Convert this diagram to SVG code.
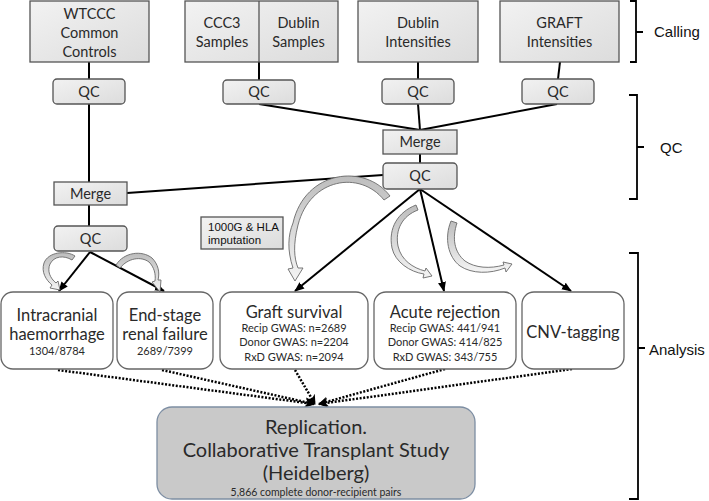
<svg xmlns="http://www.w3.org/2000/svg" width="709" height="501" viewBox="0 0 709 501">
<defs>
<linearGradient id="gbox" x1="0" y1="0" x2="1" y2="1">
<stop offset="0" stop-color="#f2f2f2"/><stop offset="1" stop-color="#dcdcdc"/>
</linearGradient>
<linearGradient id="garr" x1="0" y1="0" x2="0" y2="1">
<stop offset="0" stop-color="#bdbdbd"/><stop offset="1" stop-color="#f4f4f4"/>
</linearGradient>
<marker id="ah" viewBox="0 0 10 10" refX="9" refY="5" markerWidth="5" markerHeight="5" orient="auto">
<path d="M0,1 L10,5 L0,9 z" fill="#000"/>
</marker>
<marker id="ahd" viewBox="0 0 10 10" refX="9" refY="5" markerWidth="4" markerHeight="4" orient="auto">
<path d="M0,0 L10,5 L0,10 L3,5 z" fill="#000"/>
</marker>
</defs>
<style>
.box{fill:url(#gbox);stroke:#555;stroke-width:1.3}
.res{fill:#fff;stroke:#666;stroke-width:1.3}
.t{font-family:Lato,"Open Sans",sans-serif;fill:#2a2a2a;text-anchor:middle}
.tb{font-size:14.5px}
.tl{font-size:16.5px}
.ts{font-size:11px}
.a{font-family:"Liberation Sans",Arial,sans-serif;fill:#111}
.ln{stroke:#000;stroke-width:2;fill:none}
.dot{stroke:#000;stroke-width:2.5;fill:none;stroke-dasharray:2 1.6}
.br{stroke:#000;stroke-width:1.8;fill:none}
.ca{fill:url(#garr);stroke:#6a6a6a;stroke-width:0.9}
</style>
<rect width="709" height="501" fill="#fff"/>

<g id="connectors">
<line class="ln" x1="89" y1="62" x2="89" y2="79"/>
<line class="ln" x1="259" y1="62" x2="259" y2="80"/>
<line class="ln" x1="418" y1="62" x2="418" y2="79"/>
<line class="ln" x1="560" y1="62" x2="558" y2="79"/>
<line class="ln" x1="89" y1="104" x2="89" y2="182"/>
<line class="ln" x1="259" y1="104" x2="420" y2="130"/>
<line class="ln" x1="418" y1="104" x2="420" y2="130"/>
<line class="ln" x1="557" y1="104" x2="420" y2="130"/>
<line class="ln" x1="420" y1="154" x2="420" y2="163"/>
<line class="ln" x1="127" y1="193" x2="383" y2="175"/>
<line class="ln" x1="89" y1="205" x2="89" y2="226"/>
<line class="ln" x1="90" y1="252" x2="59" y2="291" marker-end="url(#ah)"/>
<line class="ln" x1="90" y1="252" x2="164" y2="291" marker-end="url(#ah)"/>
<line class="ln" x1="420" y1="189" x2="295" y2="291" marker-end="url(#ah)"/>
<line class="ln" x1="420" y1="189" x2="444" y2="291" marker-end="url(#ah)"/>
<line class="ln" x1="420" y1="189" x2="571" y2="291" marker-end="url(#ah)"/>
<line class="dot" x1="58" y1="370" x2="314" y2="404" marker-end="url(#ahd)"/>
<line class="dot" x1="162" y1="370" x2="314" y2="404" marker-end="url(#ahd)"/>
<line class="dot" x1="295" y1="370" x2="315" y2="404" marker-end="url(#ahd)"/>
<line class="dot" x1="445" y1="369" x2="319" y2="404" marker-end="url(#ahd)"/>
<line class="dot" x1="572" y1="369" x2="319" y2="404" marker-end="url(#ahd)"/>
</g>

<g id="curved-arrows">
<path class="ca" d="M384,200 C360,170 310,178 298,225 C293,245 294,258 298,268 L303,268 L295,281 L288,269 L293,268 C287,250 288,235 293,223 C305,170 365,163 390,196 Z"/>
<path class="ca" d="M75,256 C66,250 48,252 44,263 C41,272 46,280 52,285 L50,288 L60,290 L58,281 L56,283 C50,278 47,271 50,264 C54,256 64,255 72,260 Z"/>
<path class="ca" d="M116,265 C124,252 142,250 152,258 C158,264 160,272 158,280 L161,280 L160,292 L152,282 L155,281 C156,274 154,267 149,262 C141,256 128,258 120,268 Z"/>
<path class="ca" d="M416,205 C398,212 388,228 392,248 C395,262 410,272 424,274 L423,278 L432,276 L426,268 L425,271 C413,268 401,260 398,246 C395,230 402,216 418,210 Z"/>
<path class="ca" d="M451,221 C444,238 448,257 460,266 C472,274 490,274 505,268 L506,272 L512,264 L503,262 L504,265 C490,269 475,268 465,261 C454,252 452,238 457,223 Z"/>
</g>

<g id="wtccc"><rect class="box" x="30" y="1" width="119" height="61"/>
<text class="t tb" x="89.5" y="19">WTCCC</text><text class="t tb" x="89.5" y="38">Common</text><text class="t tb" x="89.5" y="57">Controls</text></g>
<g id="ccc3-dublin-samples"><rect class="box" x="185" y="1" width="153" height="61"/>
<line x1="259" y1="1" x2="259" y2="62" stroke="#555" stroke-width="1.3"/>
<text class="t tb" x="222" y="28">CCC3</text><text class="t tb" x="222" y="47">Samples</text>
<text class="t tb" x="298.5" y="28">Dublin</text><text class="t tb" x="298.5" y="47">Samples</text></g>
<g id="dublin-int"><rect class="box" x="358" y="1" width="120" height="61"/>
<text class="t tb" x="418" y="28">Dublin</text><text class="t tb" x="418" y="47">Intensities</text></g>
<g id="graft-int"><rect class="box" x="500" y="1" width="119" height="61"/>
<text class="t tb" x="559.5" y="28">GRAFT</text><text class="t tb" x="559.5" y="47">Intensities</text></g>

<g id="qc1"><rect class="box" x="53" y="79" width="72" height="25" rx="4"/><text class="t tb" x="89" y="97">QC</text></g>
<g id="qc2"><rect class="box" x="223" y="80" width="72" height="24" rx="4"/><text class="t tb" x="259" y="97">QC</text></g>
<g id="qc3"><rect class="box" x="382" y="79" width="72" height="25" rx="4"/><text class="t tb" x="418" y="97">QC</text></g>
<g id="qc4"><rect class="box" x="522" y="79" width="72" height="25" rx="4"/><text class="t tb" x="558" y="97">QC</text></g>
<g id="merge-right"><rect class="box" x="383" y="130" width="74" height="24"/><text class="t tb" x="420" y="147">Merge</text></g>
<g id="qc-right"><rect class="box" x="383" y="163" width="74" height="26" rx="4"/><text class="t tb" x="420" y="181">QC</text></g>
<g id="merge-left"><rect class="box" x="54" y="182" width="73" height="23"/><text class="t tb" x="90.5" y="199">Merge</text></g>
<g id="qc-left"><rect class="box" x="54" y="226" width="73" height="25" rx="4"/><text class="t tb" x="90.5" y="244">QC</text></g>

<g id="imputation"><rect class="box" x="201" y="217" width="82" height="32"/>
<text class="a" x="208" y="231" font-size="11.5">1000G &amp; HLA</text><text class="a" x="208" y="244" font-size="11.5">imputation</text></g>

<g id="intracranial"><rect class="res" x="1" y="292" width="112" height="77" rx="12"/>
<text class="t tl" x="57" y="321">Intracranial</text><text class="t tl" x="57" y="340">haemorrhage</text><text class="t ts" x="57" y="355">1304/8784</text></g>
<g id="endstage"><rect class="res" x="117" y="292" width="96" height="77" rx="12"/>
<text class="t tl" x="165" y="321">End-stage</text><text class="t tl" x="165" y="340">renal failure</text><text class="t ts" x="165" y="355">2689/7399</text></g>
<g id="graft-survival"><rect class="res" x="220" y="292" width="148" height="77" rx="12"/>
<text class="t tl" x="294" y="318">Graft survival</text><text class="t ts" x="294" y="332">Recip GWAS: n=2689</text><text class="t ts" x="294" y="346">Donor GWAS: n=2204</text><text class="t ts" x="294" y="361">RxD GWAS: n=2094</text></g>
<g id="acute-rejection"><rect class="res" x="374" y="292" width="142" height="77" rx="12"/>
<text class="t tl" x="445" y="318">Acute rejection</text><text class="t ts" x="445" y="332">Recip GWAS: 441/941</text><text class="t ts" x="445" y="346">Donor GWAS: 414/825</text><text class="t ts" x="445" y="361">RxD GWAS: 343/755</text></g>
<g id="cnv"><rect class="res" x="522" y="292" width="102" height="77" rx="12"/>
<text class="t tl" x="573" y="338">CNV-tagging</text></g>

<g id="replication"><rect x="157" y="407" width="318" height="92" rx="15" fill="#c9c9c9" stroke="#7d8ea3" stroke-width="1.3"/>
<text class="t" x="316" y="434" font-size="20">Replication.</text>
<text class="t" x="316" y="457" font-size="20">Collaborative Transplant Study</text>
<text class="t" x="316" y="480" font-size="20">(Heidelberg)</text>
<text class="t" x="316" y="496" font-size="10.5">5,866 complete donor-recipient pairs</text></g>

<g id="brackets">
<path class="br" d="M630,1 H636 V62 H630 M636,32 H643"/>
<path class="br" d="M629,95 H637 V199 H629 M637,147 H644"/>
<path class="br" d="M629,253 H638 V499 H629 M638,348 H645"/>
<text class="a" x="654" y="37" font-size="15">Calling</text>
<text class="a" x="660" y="153" font-size="15">QC</text>
<text class="a" x="649" y="355" font-size="15">Analysis</text>
</g>
</svg>
